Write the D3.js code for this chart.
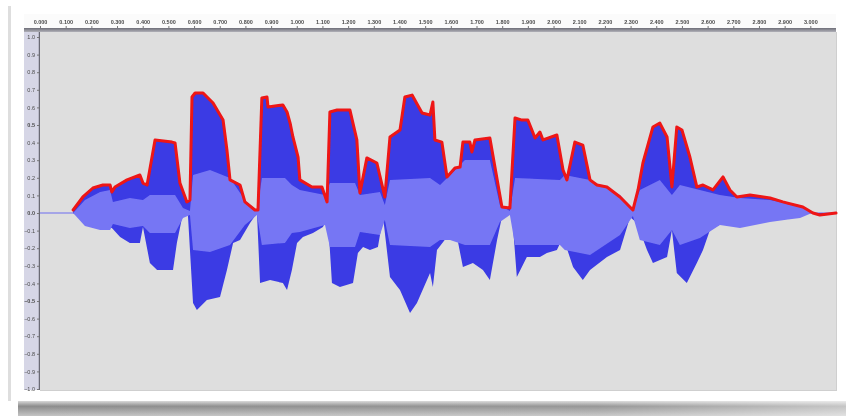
<!DOCTYPE html>
<html lang="en">
<head>
<meta charset="utf-8">
<title>Waveform envelope</title>
<script src="https://d3js.org/d3.v7.min.js"></script>
<style>
  html, body { margin: 0; padding: 0; background: #fff; overflow: hidden; }
  svg { display: block; font-family: "DejaVu Sans", sans-serif; }
  .ruler text { fill: #4a4a4a; font-size: 5.5px; }
  .ruler path, .ruler line { stroke: #777; }
</style>
</head>
<body>
<div id="chart"></div>
<script>
// time (s) and amplitude
// red envelope over the peaks
var envT = [0.129,0.167,0.206,0.245,0.273,0.280,0.292,0.339,0.389,0.401,0.417,0.448,0.514,0.526,0.545,0.572,0.584,0.592,0.604,0.635,
  0.674,0.713,0.728,0.740,0.779,0.798,0.837,0.849,0.864,0.884,0.888,0.946,0.962,0.974,0.985,1.005,1.012,1.059,1.098,1.118,
  1.129,1.157,1.207,1.234,1.246,1.273,1.312,1.343,1.363,1.402,1.421,1.449,1.488,1.519,1.530,1.538,1.565,1.585,1.616,1.636,
  1.647,1.674,1.682,1.694,1.752,1.799,1.830,1.850,1.877,1.900,1.928,1.947,1.959,2.013,2.037,2.052,2.083,2.114,2.142,2.169,
  2.208,2.259,2.309,2.329,2.348,2.387,2.414,2.442,2.461,2.480,2.500,2.531,2.558,2.582,2.621,2.660,2.687,2.714,2.765,2.843,
  2.893,2.971,3.010,3.037,3.100];
var envV = [0.017,0.091,0.142,0.159,0.159,0.119,0.148,0.188,0.216,0.170,0.159,0.415,0.403,0.398,0.170,0.063,0.074,0.659,0.682,0.682,
  0.625,0.528,0.358,0.188,0.159,0.063,0.017,0.017,0.653,0.659,0.602,0.614,0.574,0.511,0.432,0.318,0.188,0.148,0.148,0.063,
  0.574,0.585,0.585,0.415,0.114,0.313,0.284,0.091,0.432,0.472,0.659,0.670,0.568,0.557,0.631,0.415,0.403,0.205,0.256,0.261,
  0.403,0.403,0.347,0.415,0.426,0.034,0.028,0.540,0.528,0.528,0.426,0.460,0.415,0.443,0.244,0.188,0.403,0.386,0.188,0.159,
  0.148,0.091,0.017,0.131,0.284,0.489,0.511,0.432,0.148,0.489,0.472,0.318,0.148,0.159,0.131,0.205,0.131,0.091,0.102,0.085,
  0.063,0.034,0.000,-0.011,0.000];

// lower peaks
var botT = [0.129,0.195,0.261,0.280,0.312,0.350,0.389,0.401,0.428,0.456,0.518,0.533,0.557,0.576,0.596,0.611,0.650,0.701,0.728,0.752,
  0.779,0.818,0.845,0.857,0.896,0.946,0.962,0.981,1.001,1.024,1.063,1.102,1.121,1.137,1.168,1.219,1.238,1.258,1.285,1.316,
  1.336,1.363,1.402,1.441,1.468,1.519,1.530,1.546,1.585,1.624,1.647,1.686,1.725,1.752,1.780,1.799,1.838,1.857,1.896,1.947,
  1.974,2.013,2.037,2.076,2.114,2.142,2.208,2.259,2.298,2.325,2.364,2.387,2.442,2.461,2.480,2.519,2.558,2.582,2.609,2.660,
  2.714,2.792,2.870,2.948,2.998];
var botV = [0,-0.068,-0.080,-0.085,-0.136,-0.170,-0.170,-0.080,-0.284,-0.324,-0.324,-0.170,0,-0.010,-0.511,-0.551,-0.494,-0.477,-0.324,-0.170,
  -0.153,-0.057,0,-0.398,-0.381,-0.398,-0.438,-0.324,-0.170,-0.136,-0.114,-0.080,-0.023,-0.398,-0.420,-0.398,-0.227,-0.193,-0.210,-0.193,
  -0.023,-0.364,-0.438,-0.568,-0.511,-0.341,-0.420,-0.210,-0.136,-0.136,-0.307,-0.284,-0.324,-0.381,-0.153,-0.023,0,-0.364,-0.250,-0.250,
  -0.227,-0.210,-0.136,-0.307,-0.381,-0.324,-0.250,-0.210,-0.023,-0.057,-0.210,-0.284,-0.250,-0.097,-0.341,-0.398,-0.284,-0.210,-0.097,-0.057,
  -0.080,-0.057,-0.040,-0.023,0];

// rms band
var rmsT = [0.129,0.175,0.234,0.273,0.284,0.350,0.401,0.428,0.526,0.557,0.584,0.596,0.662,0.740,0.798,0.845,0.864,0.954,0.981,1.012,
  1.110,1.129,1.227,1.246,1.324,1.343,1.363,1.519,1.558,1.597,1.655,1.752,1.791,1.830,1.850,2.025,2.044,2.142,2.259,2.309,
  2.336,2.414,2.461,2.492,2.570,2.648,2.726,2.843,2.960,3.006];
var rmsTop = [0,0.074,0.119,0.131,0.063,0.085,0.074,0.102,0.102,0.028,0.011,0.216,0.244,0.199,0.074,0.011,0.199,0.199,0.159,0.131,
  0.102,0.170,0.170,0.102,0.119,0.045,0.188,0.199,0.159,0.216,0.301,0.301,0.045,0.011,0.199,0.188,0.216,0.188,0.102,0.017,
  0.131,0.188,0.102,0.159,0.131,0.102,0.085,0.074,0.040,0];
var rmsBot = [0,-0.074,-0.097,-0.097,-0.063,-0.085,-0.074,-0.114,-0.114,-0.028,-0.011,-0.210,-0.222,-0.182,-0.068,-0.011,-0.182,-0.170,-0.114,-0.108,
  -0.068,-0.193,-0.193,-0.108,-0.125,-0.040,-0.182,-0.193,-0.153,-0.153,-0.182,-0.182,-0.051,-0.011,-0.182,-0.182,-0.210,-0.239,-0.125,-0.017,
  -0.153,-0.182,-0.097,-0.182,-0.142,-0.068,-0.085,-0.051,-0.028,0];

var timeTicks = d3.range(0, 31).map(function(i){ return i / 10; });
var ampTicks = d3.range(-10, 11).map(function(i){ return i / 10; });

var W = 846, H = 416;
var pl = 40, pr = 836, pt = 32, pb = 390;

var svg = d3.select("#chart").append("svg")
  .attr("width", W).attr("height", H);

var defs = svg.append("defs");
var sh = defs.append("linearGradient").attr("id", "shadow")
  .attr("x1", 0).attr("y1", 0).attr("x2", 0).attr("y2", 1);
sh.append("stop").attr("offset", "0%").attr("stop-color", "#d8d8d8");
sh.append("stop").attr("offset", "35%").attr("stop-color", "#8c8c8c");
sh.append("stop").attr("offset", "100%").attr("stop-color", "#c4c4c4");
var shx = defs.append("linearGradient").attr("id", "shadowFade")
  .attr("x1", 0).attr("y1", 0).attr("x2", 1).attr("y2", 0);
shx.append("stop").attr("offset", "0%").attr("stop-color", "#fff").attr("stop-opacity", 0);
shx.append("stop").attr("offset", "70%").attr("stop-color", "#fff").attr("stop-opacity", 0.1);
shx.append("stop").attr("offset", "100%").attr("stop-color", "#fff").attr("stop-opacity", 0.5);
var band = defs.append("linearGradient").attr("id", "band")
  .attr("x1", 0).attr("y1", 0).attr("x2", 0).attr("y2", 1);
band.append("stop").attr("offset", "0%").attr("stop-color", "#6e6e78");
band.append("stop").attr("offset", "100%").attr("stop-color", "#b0b0b8");
defs.append("filter").attr("id", "soft")
  .attr("x", "-2%").attr("y", "-2%").attr("width", "104%").attr("height", "104%")
  .append("feGaussianBlur").attr("stdDeviation", 0.45);

// card + shadow
svg.append("rect").attr("x", 0).attr("y", 0).attr("width", W).attr("height", H).attr("fill", "#fff");
svg.append("rect").attr("x", 18).attr("y", 401).attr("width", W - 18).attr("height", 15).attr("fill", "url(#shadow)");
svg.append("rect").attr("x", 18).attr("y", 401).attr("width", W - 18).attr("height", 15).attr("fill", "url(#shadowFade)");
svg.append("rect").attr("x", 8).attr("y", 6).attr("width", 3).attr("height", 395).attr("fill", "#dedede");

var chart = svg.append("g").attr("filter", "url(#soft)");

// top ruler
chart.append("rect").attr("x", 24).attr("y", 14).attr("width", pr - 24).attr("height", 14).attr("fill", "#fbfbfb");
chart.append("rect").attr("x", 24).attr("y", 28).attr("width", pr - 24).attr("height", 4).attr("fill", "url(#band)");

var x = d3.scaleLinear().domain([0, 3.1]).range([pl, pr]);
var y = d3.scaleLinear().domain([-1, 1]).range([389, 37]);

var xAxis = chart.append("g").attr("class", "ruler")
  .attr("transform", "translate(0," + 28 + ")")
  .call(d3.axisTop(x).tickValues(timeTicks).tickSize(2).tickPadding(2)
    .tickFormat(d3.format(".3f")));
xAxis.select(".domain").remove();
xAxis.selectAll("text").attr("font-weight", "bold");

// vertical ruler
chart.append("rect").attr("x", 24).attr("y", pt).attr("width", pl - 24).attr("height", pb - pt).attr("fill", "#d6d6e6");
chart.append("line").attr("x1", pl - 0.5).attr("x2", pl - 0.5).attr("y1", pt).attr("y2", pb).attr("stroke", "#6a6a74").attr("stroke-width", 1.5);

var yAxis = chart.append("g").attr("class", "ruler")
  .attr("transform", "translate(" + (pl - 1) + ",0)")
  .call(d3.axisLeft(y).tickValues(ampTicks).tickSize(2).tickPadding(2)
    .tickFormat(function(d){ return d3.format(".1f")(d); }));
yAxis.select(".domain").remove();
yAxis.selectAll("text").attr("font-weight", function(d){ return Math.abs(d) === 0.5 || d === 0 ? "bold" : "normal"; });

// plot background
chart.append("rect").attr("x", pl).attr("y", pt).attr("width", pr - pl).attr("height", pb - pt).attr("fill", "#dedede");
chart.append("line").attr("x1", pl).attr("x2", pr + 1).attr("y1", pb + 0.5).attr("y2", pb + 0.5).attr("stroke", "#cfcfcf");
chart.append("line").attr("x1", pr + 0.5).attr("x2", pr + 0.5).attr("y1", pt).attr("y2", pb).attr("stroke", "#cfcfcf");

var envData = envT.map(function(t, i){ return {t: t, v: envV[i]}; });
var botData = botT.map(function(t, i){ return {t: t, v: botV[i]}; });
var rmsData = rmsT.map(function(t, i){ return {t: t, hi: rmsTop[i], lo: rmsBot[i]}; });

var g = chart.append("g");

// zero line
g.append("line").attr("x1", pl).attr("x2", pr).attr("y1", y(0)).attr("y2", y(0))
  .attr("stroke", "#6c6cf0").attr("stroke-width", 1);

var dark = "#3a3ae4", light = "#7676f4";

g.append("path").datum(envData)
  .attr("fill", dark)
  .attr("d", d3.area().x(function(d){ return x(d.t); }).y0(y(0)).y1(function(d){ return y(d.v); }));
g.append("path").datum(botData)
  .attr("fill", dark)
  .attr("d", d3.area().x(function(d){ return x(d.t); }).y0(y(0)).y1(function(d){ return y(d.v); }));
g.append("path").datum(rmsData)
  .attr("fill", light)
  .attr("d", d3.area().x(function(d){ return x(d.t); })
    .y0(function(d){ return y(d.lo); }).y1(function(d){ return y(d.hi); }));

// envelope
g.append("path").datum(envData)
  .attr("fill", "none")
  .attr("stroke", "#ee1414")
  .attr("stroke-width", 3)
  .attr("stroke-linejoin", "round")
  .attr("stroke-linecap", "round")
  .attr("d", d3.line().x(function(d){ return x(d.t); }).y(function(d){ return y(d.v); }));
</script>
</body>
</html>
